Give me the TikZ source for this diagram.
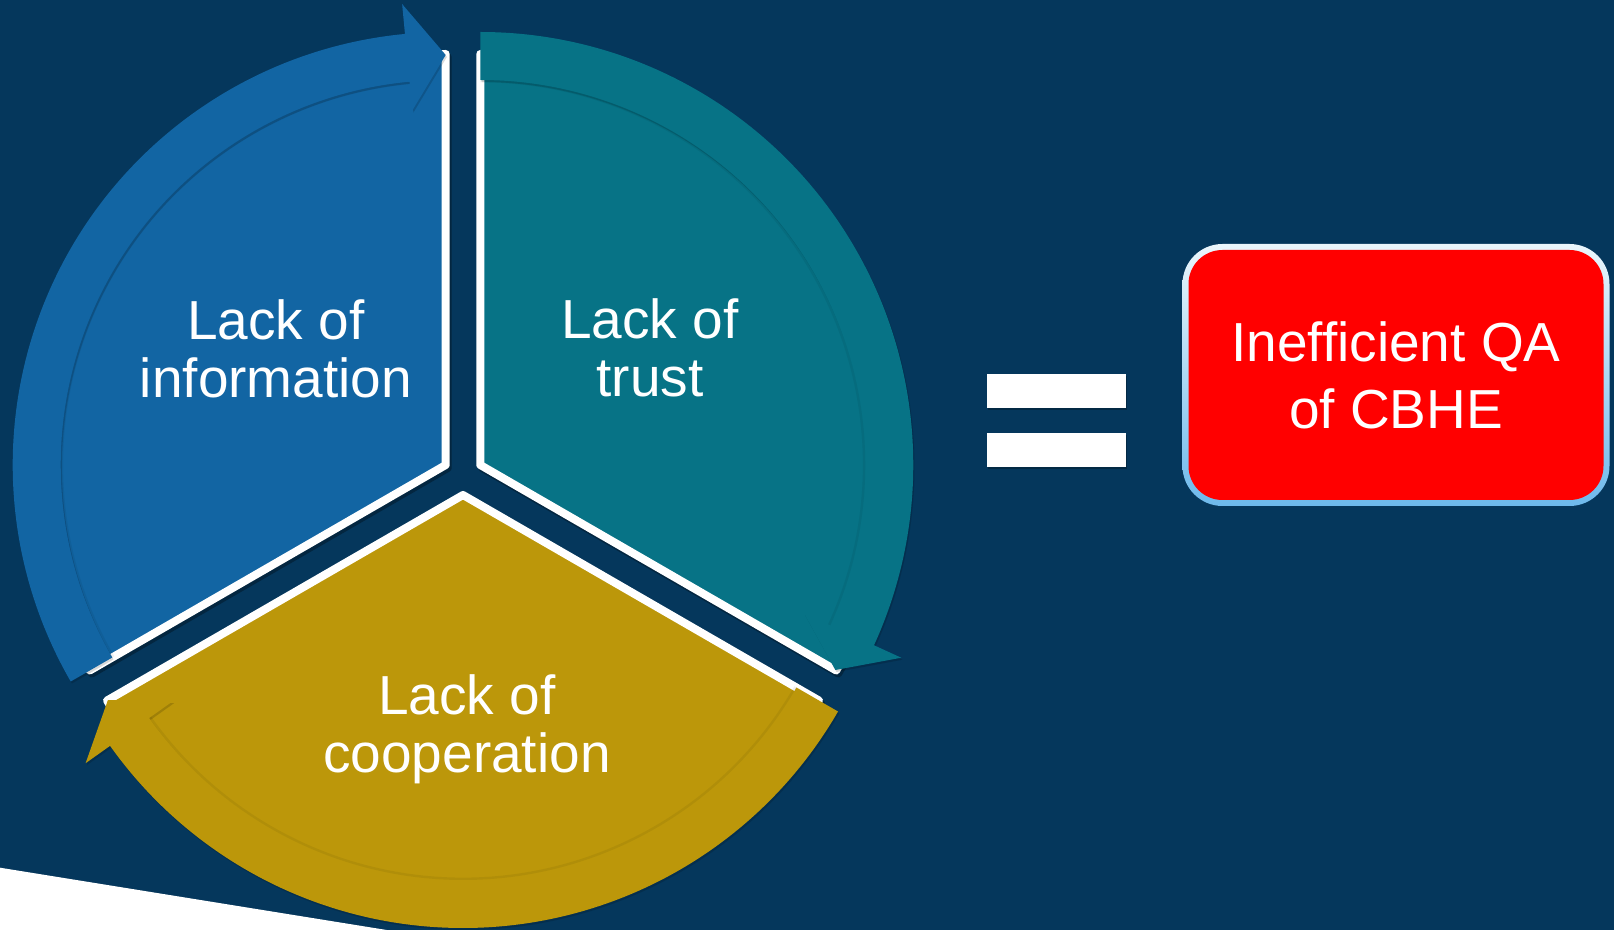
\documentclass[tikz,border=0pt]{standalone}
\usepackage{fontspec}
\setmainfont{Liberation Sans}[Ligatures=NoCommon]
\definecolor{bgnavy}{RGB}{5,55,92}
\definecolor{segblue}{RGB}{18,101,163}
\definecolor{segteal}{RGB}{7,115,134}
\definecolor{seggold}{RGB}{188,151,10}
\definecolor{rimtop}{RGB}{235,246,252}
\definecolor{rimbot}{RGB}{110,185,236}
% #1 apex, #2 start angle, #3 end angle, #4 colour
\newcommand\pieslice[4]{%
  \filldraw[black, opacity=.3, line width=4pt, line join=round, shift={(#1)}, xshift=1pt, yshift=-1.5pt]
    (0,0) -- (#2:411) arc[start angle=#2, end angle=#3, radius=411] -- cycle;
  \filldraw[fill=#4, draw=white, line width=4pt, line join=round, shift={(#1)}]
    (0,0) -- (#2:411) arc[start angle=#2, end angle=#3, radius=411] -- cycle;
}
% #1 centre, #2 tail angle, #3 head back angle, #4 tip angle, #5 colour
\newcommand\bandarrow[5]{%
  \fill[black, opacity=.15, shift={(#1)}, xshift=0.6pt, yshift=-1pt]
    (#2:433) arc[start angle=#2, end angle=#3, radius=433] -- (#3:463) -- (#4:410) -- (#3:356) -- (#3:385)
    arc[start angle=#3, end angle=#2, radius=385] -- cycle;
  \fill[#5, shift={(#1)}]
    (#2:433) arc[start angle=#2, end angle=#3, radius=433] -- (#3:463) -- (#4:410) -- (#3:356) -- (#3:385)
    arc[start angle=#3, end angle=#2, radius=385] -- cycle;
  \draw[black, opacity=.06, line width=1.2pt, shift={(#1)}]
    (#2:383.8) arc[start angle=#2, end angle=#3, radius=383.8];
}
\begin{document}
\begin{tikzpicture}[x=0.5pt, y=0.5pt,
  lbl/.style={text=white, align=center, inner sep=0pt, font=\fontsize{27.5}{29}\selectfont},
  eqbar/.style={fill=white, inner sep=0pt, minimum width=69.5pt, minimum height=17pt},
  eqshadow/.style={fill=black, opacity=.25, inner sep=0pt, minimum width=69.5pt, minimum height=17pt}]
\useasboundingbox (0,0) rectangle (1614,-930);
\fill[bgnavy] (0,0) rectangle (1614,-930);
\fill[white] (0,-867.7) -- (386.7,-930) -- (0,-930) -- cycle;

\coordinate (B) at (445.7,-465);
\coordinate (T) at (480.3,-465);
\coordinate (G) at (463,-495);

% slices
\pieslice{B}{90}{210}{segblue}
\pieslice{T}{-30}{90}{segteal}
\pieslice{G}{210}{330}{seggold}

% circular arrows
\bandarrow{B}{210}{95.4}{90}{segblue}
\bandarrow{T}{90}{-24.6}{-30}{segteal}
\bandarrow{G}{-30}{-144.6}{-150}{seggold}

% labels
\node[lbl] (info) at (276,-348.5) {Lack of\\information};
\node[lbl] (trust) at (650,-347.5) {Lack of\\trust};
\node[lbl] (coop) at (467,-729) {Lack of\\cooperation};

% equals sign
\node[eqshadow] at (1057.5,-393) {};
\node[eqshadow] at (1057.5,-452) {};
\node[eqbar] (eqtop) at (1056.5,-391) {};
\node[eqbar] (eqbot) at (1056.5,-450) {};

% result box
\node[rounded corners=20pt, minimum width=213.5pt, minimum height=131pt, inner sep=0pt,
      top color=rimtop, bottom color=rimbot] (rim) at (1396,-375) {};
\node[fill=red, rounded corners=17pt, minimum width=207.5pt, minimum height=125pt, inner sep=0pt,
      text=white, align=center, font=\fontsize{27.5}{33.5}\selectfont] (box) at (1396,-375)
      {Inefficient QA\\of CBHE};
\end{tikzpicture}
\end{document}
